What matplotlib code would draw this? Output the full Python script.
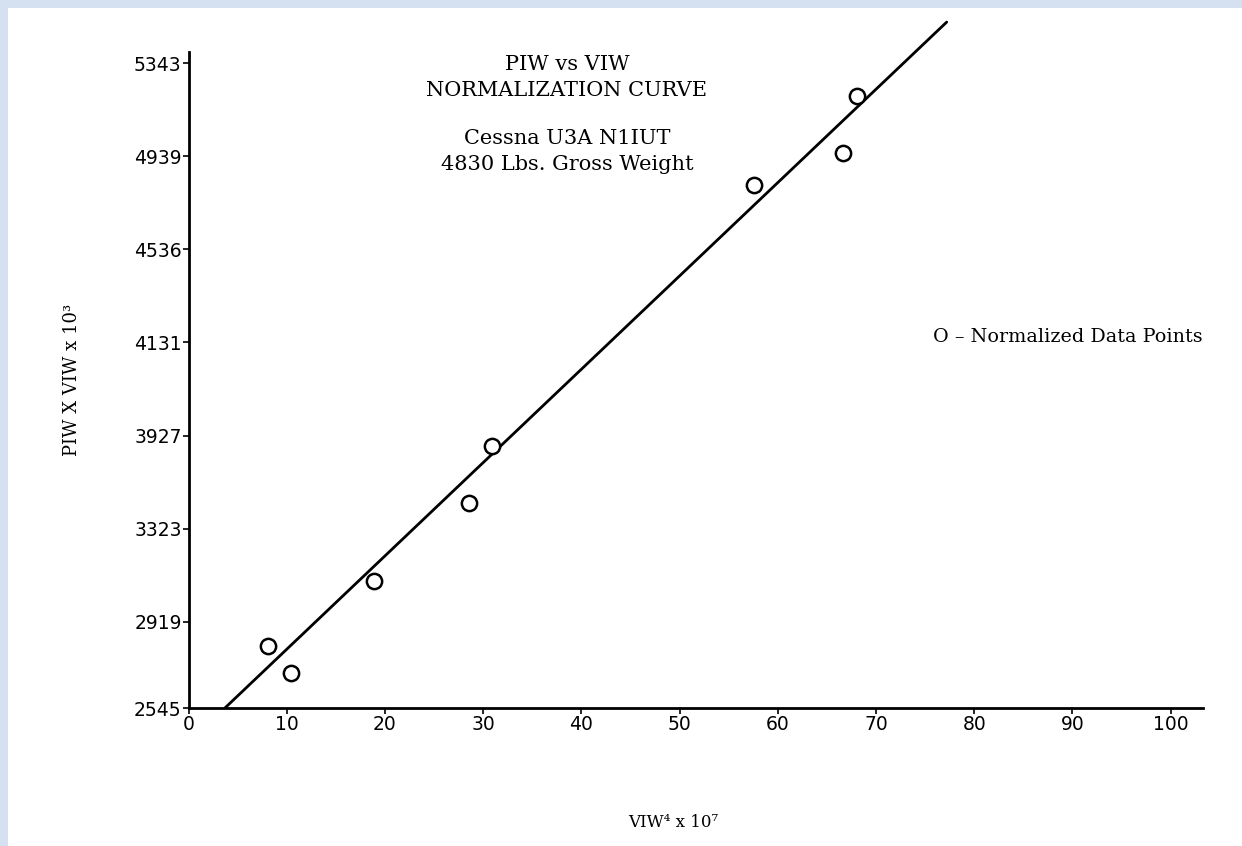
import numpy as np
import matplotlib
matplotlib.use("Agg")
import matplotlib.pyplot as plt
from matplotlib.patches import Rectangle

# normalized data points
viw4 = [8.1, 10.4, 18.9, 28.6, 30.9, 57.6, 66.6, 68.1]
piw_viw = [2814, 2697, 3096, 3434, 3682, 4814, 4953, 5200]

# straight normalization curve (two ends)
fit_x = [3.7, 77.2]
fit_y = [2545, 5521]

xticks = [0, 10, 20, 30, 40, 50, 60, 70, 80, 90, 100]
yticks = [2545, 2919, 3323, 3727, 4131, 4536, 4939, 5343]
ytick_labels = ["2545", "2919", "3323", "3927", "4131", "4536", "4939", "5343"]

serif = ["DejaVu Serif"]
sans = ["DejaVu Sans"]

fig = plt.figure(figsize=(12.42, 8.46), dpi=100)
fig.patch.set_facecolor("white")

# light blue screenshot border
fig.patches.append(Rectangle((0, 1 - 8 / 846), 1, 8 / 846, transform=fig.transFigure,
                             facecolor="#d5e1f1", edgecolor="none", zorder=0))
fig.patches.append(Rectangle((0, 0), 8 / 1242, 1, transform=fig.transFigure,
                             facecolor="#d5e1f1", edgecolor="none", zorder=0))

ax = fig.add_axes([188.6 / 1242, 1 - 708 / 846, 1014.4 / 1242, 688 / 846])
ax.set_facecolor("none")

ax.plot(fit_x, fit_y, color="black", lw=2.0, solid_capstyle="round")
ax.plot(viw4, piw_viw, linestyle="none", marker="o", ms=11, mfc="white",
        mec="black", mew=1.8)

ax.set_xlim(0, 103.3)
ax.set_ylim(2545, 5530)

for s in ["top", "right"]:
    ax.spines[s].set_visible(False)
ax.spines["left"].set_bounds(2545, 5391)
ax.spines["left"].set_linewidth(2.0)
ax.spines["bottom"].set_linewidth(2.0)

ax.set_xticks(xticks)
ax.set_xticklabels([str(t) for t in xticks], family=sans, fontsize=13.5)
ax.set_yticks(yticks)
ax.set_yticklabels(ytick_labels, family=sans, fontsize=13.5)
ax.tick_params(axis="both", direction="out", length=4, width=1.2, pad=1)

fig.text(0.4565, 1 - 65 / 846, "PIW vs VIW", ha="center", va="center",
         family=serif, fontsize=15)
fig.text(0.4565, 1 - 90 / 846, "NORMALIZATION CURVE", ha="center", va="center",
         family=serif, fontsize=15)
fig.text(0.4565, 1 - 138 / 846, "Cessna U3A N1IUT", ha="center", va="center",
         family=serif, fontsize=15)
fig.text(0.4565, 1 - 165 / 846, "4830 Lbs. Gross Weight", ha="center", va="center",
         family=serif, fontsize=15)

fig.text(933 / 1242, 1 - 337 / 846, "O – Normalized Data Points", ha="left",
         va="center", family=serif, fontsize=13.8)

fig.text(673 / 1242, 1 - 822 / 846, "VIW⁴ x 10⁷", ha="center", va="center",
         family=serif, fontsize=12)
fig.text(72 / 1242, 1 - 380 / 846, "PIW X VIW x 10³", ha="center", va="center",
         rotation=90, family=serif, fontsize=13)

fig.savefig("out.png", dpi=100)
